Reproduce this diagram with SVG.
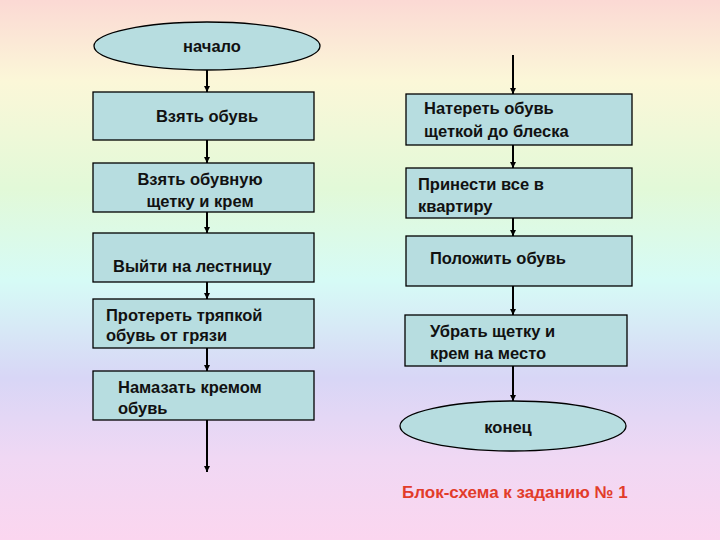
<svg xmlns="http://www.w3.org/2000/svg" width="720" height="540" viewBox="0 0 720 540">
<defs>
<linearGradient id="bg" x1="0" y1="0" x2="0" y2="1">
<stop offset="0" stop-color="#fbd9d4"/>
<stop offset="0.15" stop-color="#fbf7d8"/>
<stop offset="0.35" stop-color="#e2f9d8"/>
<stop offset="0.52" stop-color="#d6fbf6"/>
<stop offset="0.7" stop-color="#d8d6f6"/>
<stop offset="0.85" stop-color="#f0d8f4"/>
<stop offset="1" stop-color="#fbd6ef"/>
</linearGradient>
<marker id="ah" viewBox="0 0 10 10" refX="10" refY="5" markerWidth="6" markerHeight="6" orient="auto" markerUnits="userSpaceOnUse">
<path d="M0,0 L10,5 L0,10 z" fill="#000"/>
</marker>
<style>
.n{fill:#b7dde0;stroke:#000;stroke-width:1.3}
.t{font-family:"Liberation Sans",Arial,sans-serif;font-weight:bold;font-size:16.5px;fill:#111}
.c{stroke:#000;stroke-width:2;fill:none;marker-end:url(#ah)}
</style>
</defs>
<rect width="720" height="540" fill="url(#bg)"/>
<g id="connectors">
<line class="c" x1="207" y1="70" x2="207" y2="92"/>
<line class="c" x1="207" y1="140" x2="207" y2="163"/>
<line class="c" x1="207" y1="212" x2="207" y2="233"/>
<line class="c" x1="207" y1="282" x2="207" y2="299"/>
<line class="c" x1="207" y1="348" x2="207" y2="371"/>
<line class="c" x1="207" y1="420" x2="207" y2="472"/>
<line class="c" x1="513" y1="55" x2="513" y2="94"/>
<line class="c" x1="513" y1="145" x2="513" y2="168"/>
<line class="c" x1="513" y1="218" x2="513" y2="236"/>
<line class="c" x1="513" y1="286" x2="513" y2="315"/>
<line class="c" x1="513" y1="366" x2="513" y2="401"/>
</g>
<g id="start"><ellipse class="n" cx="207" cy="46" rx="113" ry="24"/><text class="t" x="212" y="52" text-anchor="middle">начало</text></g>
<g id="l1"><rect class="n" x="93" y="92" width="221" height="48"/><text class="t" x="207" y="122" text-anchor="middle">Взять обувь</text></g>
<g id="l2"><rect class="n" x="93" y="163" width="221" height="49"/><text class="t" x="200" y="185" text-anchor="middle">Взять обувную</text><text class="t" x="200" y="207" text-anchor="middle">щетку и крем</text></g>
<g id="l3"><rect class="n" x="93" y="233" width="221" height="49"/><text class="t" x="113" y="272">Выйти на лестницу</text></g>
<g id="l4"><rect class="n" x="93" y="299" width="221" height="49"/><text class="t" x="106" y="321">Протереть тряпкой</text><text class="t" x="106" y="341">обувь от грязи</text></g>
<g id="l5"><rect class="n" x="93" y="371" width="221" height="49"/><text class="t" x="118" y="393">Намазать кремом</text><text class="t" x="118" y="414">обувь</text></g>
<g id="r1"><rect class="n" x="406" y="94" width="226" height="51"/><text class="t" x="424" y="114">Натереть обувь</text><text class="t" x="424" y="137">щеткой до блеска</text></g>
<g id="r2"><rect class="n" x="406" y="168" width="226" height="50"/><text class="t" x="418" y="190">Принести все в</text><text class="t" x="418" y="212">квартиру</text></g>
<g id="r3"><rect class="n" x="406" y="236" width="226" height="50"/><text class="t" x="430" y="264">Положить обувь</text></g>
<g id="r4"><rect class="n" x="405" y="315" width="222" height="51"/><text class="t" x="430" y="337">Убрать щетку и</text><text class="t" x="430" y="359">крем на место</text></g>
<g id="end"><ellipse class="n" cx="513" cy="426" rx="113" ry="25"/><text class="t" x="508" y="433" text-anchor="middle">конец</text></g>
<text x="402" y="498" font-family="Liberation Sans,Arial,sans-serif" font-weight="bold" font-size="17" fill="#e23c2a">Блок-схема к заданию № 1</text>
</svg>
